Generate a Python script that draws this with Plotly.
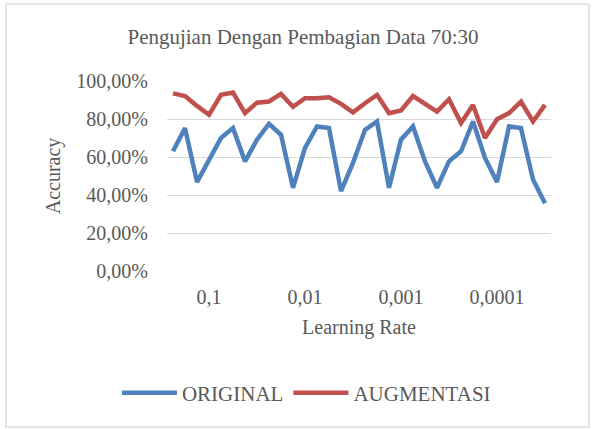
import plotly.graph_objects as go

# ---- data ----
lr_labels = ["0,1", "0,01", "0,001", "0,0001"]
runs_per_lr = 8
label_slot = 3  # which run within each learning-rate group carries the label

original = [63.0, 75.2, 46.8, 58.8, 70.0, 75.2, 57.7, 69.1,
            77.5, 71.7, 43.8, 64.8, 76.1, 75.2, 42.0, 56.9,
            74.3, 78.7, 43.8, 69.1, 76.1, 57.7, 43.8, 57.7,
            63.0, 78.7, 59.5, 46.8, 76.1, 75.2, 48.2, 35.6]
augmentasi = [93.5, 92.1, 86.9, 82.2, 92.7, 93.9, 83.1, 88.6,
              89.2, 93.2, 86.4, 90.9, 90.9, 91.4, 88.0, 83.5,
              88.3, 92.7, 83.1, 84.5, 92.1, 88.0, 83.9, 90.4,
              77.9, 87.4, 70.0, 79.9, 83.1, 89.2, 78.7, 87.4]
y_ticks = [0, 0.2, 0.4, 0.6, 0.8, 1.0]

n = len(original)
x = list(range(n))
tickvals = [g * runs_per_lr + label_slot for g in range(len(lr_labels))]

FONT = "Liberation Serif"
TXT = "#595959"
GRID = "#d9d9d9"

fig = go.Figure()
fig.add_trace(go.Scatter(x=x, y=[v / 100 for v in original], mode="lines",
                         name="ORIGINAL",
                         line=dict(color="#4F81BD", width=4.5)))
fig.add_trace(go.Scatter(x=x, y=[v / 100 for v in augmentasi], mode="lines",
                         name="AUGMENTASI",
                         line=dict(color="#C0504D", width=4.5)))

W, H = 595, 429
ml, mr, mt, mb = 167, 44, 81, 157.5
pw, ph = W - ml - mr, H - mt - mb

fig.update_layout(
    template="none",
    width=W, height=H,
    margin=dict(l=ml, r=mr, t=mt, b=mb, pad=0),
    paper_bgcolor="white", plot_bgcolor="white",
    separators=",.",
    font=dict(family=FONT, color=TXT, size=20),
    title=dict(text="Pengujian Dengan Pembagian Data 70:30",
               font=dict(family=FONT, size=21, color=TXT),
               x=303 / W, xref="container", xanchor="center",
               y=1 - 37 / H, yref="container", yanchor="middle",
               automargin=False),
    xaxis=dict(range=[-0.5, n - 0.5], tickmode="array", tickvals=tickvals,
               ticktext=lr_labels, showgrid=False, zeroline=False,
               showline=False, ticks="", ticklabelstandoff=12,
               automargin=False, tickfont=dict(size=20, family=FONT, color=TXT),
               title=dict(text="Learning Rate",
                          font=dict(size=20, family=FONT, color=TXT),
                          standoff=12)),
    yaxis=dict(range=[0, 1.0], tickmode="array", tickvals=y_ticks,
               tickformat=".2%", showgrid=True, gridcolor=GRID, gridwidth=1.3,
               zeroline=False, showline=False, ticks="", ticklabelstandoff=18,
               automargin=False, tickfont=dict(size=20, family=FONT, color=TXT),
               title=dict(text="Accuracy",
                          font=dict(size=20, family=FONT, color=TXT),
                          standoff=10)),
    legend=dict(orientation="h", xref="container", yref="container",
                x=0.515, xanchor="center", y=1 - 393 / H, yanchor="middle",
                font=dict(size=21, family=FONT, color=TXT), itemwidth=55,
                tracegroupgap=0, bgcolor="rgba(0,0,0,0)"),
    shapes=[dict(type="rect", xref="paper", yref="paper",
                 x0=(6 - ml) / pw, x1=(589 - ml) / pw,
                 y0=-(428 - (H - mb)) / ph, y1=1 + (mt - 4) / ph,
                 line=dict(color=GRID, width=1.3), layer="below")],
)

fig.write_html("out.html",
               config={"displayModeBar": False},
               post_script="document.body.style.margin='0';"
                           "document.body.style.overflow='hidden';")
